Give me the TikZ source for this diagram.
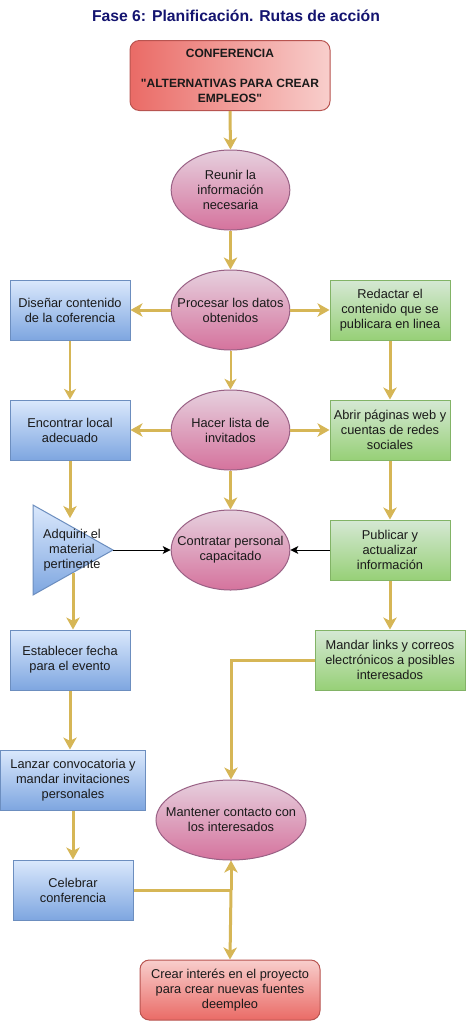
\documentclass[tikz,border=0pt]{standalone}
\usepackage{fontspec}
\setmainfont{Liberation Sans}[Ligatures=TeXOff]
\usetikzlibrary{arrows.meta,positioning,calc,shapes.geometric}
\definecolor{bluetop}{HTML}{DAE8FC}
\definecolor{bluebot}{HTML}{7EA6E0}
\definecolor{blueline}{HTML}{6C8EBF}
\definecolor{greentop}{HTML}{D5E8D4}
\definecolor{greenbot}{HTML}{97D077}
\definecolor{greenline}{HTML}{82B366}
\definecolor{pinktop}{HTML}{E6D0DE}
\definecolor{pinkbot}{HTML}{D5739D}
\definecolor{pinkline}{HTML}{996185}
\definecolor{redlight}{HTML}{F8CECC}
\definecolor{reddark}{HTML}{EA6B66}
\definecolor{redline}{HTML}{B85450}
\definecolor{ylw}{HTML}{D6B656}
\definecolor{navy}{HTML}{141470}
\definecolor{txt}{HTML}{1A1A1A}
\begin{document}
\begin{tikzpicture}[x=0.75pt,y=-0.75pt,
  every node/.style={font=\fontsize{9.6}{11.3}\selectfont, text=txt, align=center, inner sep=0pt},
  bluebox/.style={draw=blueline, line width=0.75pt, top color=bluetop, bottom color=bluebot, minimum width=90pt, minimum height=45pt},
  greenbox/.style={draw=greenline, line width=0.75pt, top color=greentop, bottom color=greenbot, minimum width=90pt, minimum height=45pt},
  pinkell/.style={ellipse, draw=pinkline, line width=0.75pt, top color=pinktop, bottom color=pinkbot, inner xsep=-30pt, inner ysep=-12pt, minimum width=89pt, minimum height=60pt},
  thickarrow/.style={draw=ylw, line width=2.25pt, -{Stealth[length=9pt,width=10pt,inset=2.5pt]}},
  thinarrow/.style={draw=ylw, line width=1.5pt, -{Stealth[length=8pt,width=9pt,inset=2.2pt]}},
  blackarrow/.style={draw=black, line width=0.75pt, -{Stealth[length=6pt,width=6pt,inset=1.5pt]}},
  yline/.style={draw=ylw, line width=2.25pt}
]
\useasboundingbox (0,0) rectangle (466,1025);
\fill[white] (0,0) rectangle (466,1025);

\node[font=\fontsize{11.8}{13}\selectfont\bfseries, text=navy] (title) at (236,16) {Fase 6: Planificación. Rutas de acción};

\node[draw=redline, line width=0.75pt, rounded corners=7pt, left color=reddark, right color=redlight,
      minimum width=150pt, minimum height=52.5pt, font=\fontsize{9}{11.3}\selectfont\bfseries] (conf) at (230,75.5)
  {CONFERENCIA\\[11.3pt]"ALTERNATIVAS PARA CREAR\\EMPLEOS"};

\node[pinkell] (reunir) at (230.5,190) {Reunir la\\información\\necesaria};
\node[pinkell] (procesar) at (230.5,310) {Procesar los datos\\obtenidos};
\node[pinkell] (hacer) at (230.5,430) {Hacer lista de\\invitados};
\node[pinkell] (contratar) at (230.5,550) {Contratar personal\\capacitado};
\node[pinkell, minimum width=112.5pt] (mantener) at (231,820) {Mantener contacto con\\los interesados};

\node[bluebox] (disenar) at (70,310) {Diseñar contenido\\de la coferencia};
\node[bluebox] (encontrar) at (70,430) {Encontrar local\\adecuado};
\node[bluebox] (establecer) at (70,660) {Establecer fecha\\para el evento};
\node[bluebox, minimum width=109pt] (lanzar) at (73,780) {Lanzar convocatoria y\\mandar invitaciones\\personales};
\node[bluebox] (celebrar) at (73,890) {Celebrar\\conferencia};

\node[greenbox] (redactar) at (390,310) {Redactar el\\contenido que se\\publicara en linea};
\node[greenbox] (abrir) at (390,430) {Abrir páginas web y\\cuentas de redes\\sociales};
\node[greenbox] (publicar) at (390,550) {Publicar y\\actualizar\\información};
\node[greenbox, minimum width=112.5pt] (mandar) at (390,660) {Mandar links y correos\\electrónicos a posibles\\interesados};

\node[draw=redline, line width=0.75pt, rounded corners=7pt, top color=redlight, bottom color=reddark,
      minimum width=135pt, minimum height=45pt] (crear) at (230,990)
  {Crear interés en el proyecto\\para crear nuevas fuentes\\deempleo};

% triangle
\path[draw=blueline, line width=0.75pt, top color=bluetop, bottom color=bluebot] (33,505) -- (113,550) -- (33,595) -- cycle;
\coordinate (adqtop) at (70,518);
\coordinate (adqtip) at (113,550);
\coordinate (adqbot) at (73,572.5);
\node (adq) at (72,550) {Adquirir el\\material\\pertinente};

% connectors
\draw[thickarrow] (conf.south) -- (reunir.north);
\draw[thickarrow] (reunir.south) -- (procesar.north);
\draw[thickarrow] (procesar.west) -- (disenar.east);
\draw[thickarrow] (procesar.east) -- (redactar.west);
\draw[thinarrow] (procesar.south) -- (hacer.north);
\draw[thinarrow] (disenar.south) -- (encontrar.north);
\draw[thickarrow] (redactar.south) -- (abrir.north);
\draw[thickarrow] (hacer.west) -- (encontrar.east);
\draw[thickarrow] (hacer.east) -- (abrir.west);
\draw[thickarrow] (hacer.south) -- (contratar.north);
\draw[thickarrow] (encontrar.south) -- (adqtop);
\draw[thickarrow] (abrir.south) -- (publicar.north);
\draw[blackarrow] (adqtip) -- (contratar.west);
\draw[blackarrow] (publicar.west) -- (contratar.east);
\draw[thickarrow] (adqbot) -- (adqbot |- establecer.north);
\draw[thickarrow] (publicar.south) -- (mandar.north);
\draw[thickarrow] (mandar.west) -| (mantener.north);
\draw[thickarrow] (establecer.south) -- (establecer.south |- lanzar.north);
\draw[thickarrow] (lanzar.south) -- (celebrar.north);
\coordinate (junc) at (mantener.south |- celebrar.east);
\draw[yline] (celebrar.east) -- (junc);
\draw[thickarrow] (junc) -- (mantener.south);
\draw[thickarrow] (junc) -- (crear.north);
\end{tikzpicture}
\end{document}
